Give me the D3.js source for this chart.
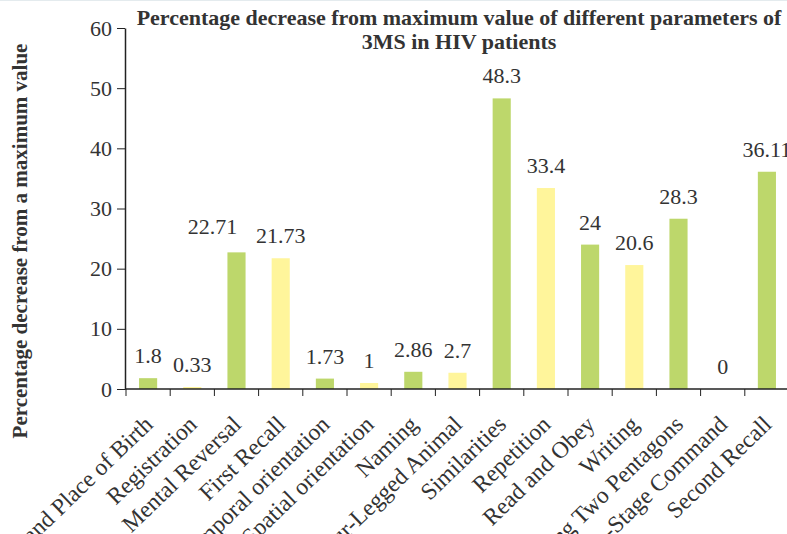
<!DOCTYPE html>
<html>
<head>
<meta charset="utf-8">
<script src="https://cdn.jsdelivr.net/npm/d3@7"></script>
<style>
  body { margin: 0; background: #fff; }
  svg { display: block; font-family: "Palatino Linotype", "Book Antiqua", Palatino, "Liberation Serif", serif; }
  .axis path, .axis line { stroke: #222; }
  .axis text { fill: #333; }
</style>
</head>
<body>
<div id="chart"></div>
<script>
"use strict";

var categories = ["Date and Place of Birth", "Registration", "Mental Reversal", "First Recall",
    "Temporal orientation", "Spatial orientation", "Naming", "Four-Legged Animal",
    "Similarities", "Repetition", "Read and Obey", "Writing", "Copying Two Pentagons",
    "Three-Stage Command", "Second Recall"];
var values = [1.8, 0.33, 22.71, 21.73, 1.73, 1, 2.86, 2.7, 48.3, 33.4, 24, 20.6, 28.3, 0, 36.11];
var valueLabels = ["1.8", "0.33", "22.71", "21.73", "1.73", "1", "2.86", "2.7", "48.3", "33.4", "24", "20.6", "28.3", "0", "36.11"];
var yTicks = [0, 10, 20, 30, 40, 50, 60];

var W = 787, H = 534;
var plotLeft = 126, plotRight = 789, plotTop = 28, plotBottom = 389;
var colors = ["#bdd76b", "#fff59b"];

var svg = d3.select("#chart")
    .append("svg")
    .attr("width", W)
    .attr("height", H);

// faint line along the top edge
svg.append("rect")
    .attr("x", 0).attr("y", 0)
    .attr("width", W).attr("height", 1)
    .attr("fill", "#e4ebee");

var x = d3.scaleBand()
    .domain(categories)
    .range([plotLeft, plotRight]);
var y = d3.scaleLinear()
    .domain([0, 60])
    .range([plotBottom, plotTop]);

var barW = x.bandwidth() * 0.41;

svg.selectAll(".bar")
    .data(values)
    .enter()
    .append("rect")
    .attr("class", "bar")
    .attr("x", (d, i) => x(categories[i]) + (x.bandwidth() - barW) / 2)
    .attr("y", d => y(d))
    .attr("width", barW)
    .attr("height", d => plotBottom - y(d))
    .attr("fill", (d, i) => colors[i % 2]);

// label for Mental Reversal is pushed left so it clears First Recall's one
function nudge(i) {
    return categories[i] === "Mental Reversal" ? [-24, -3] : [0, 0];
}

svg.selectAll(".val")
    .data(values)
    .enter()
    .append("text")
    .attr("class", "val")
    .attr("x", (d, i) => x(categories[i]) + x.bandwidth() / 2 + nudge(i)[0])
    .attr("y", d => y(d) - 15)
    .attr("dy", (d, i) => nudge(i)[1])
    .attr("text-anchor", "middle")
    .attr("font-size", 22)
    .attr("fill", "#333")
    .text((d, i) => valueLabels[i]);

// y axis
var yAxis = svg.append("g")
    .attr("class", "axis axis--y")
    .attr("transform", "translate(" + (plotLeft - 1) + ",0)")
    .call(d3.axisLeft(y).tickValues(yTicks).tickSize(8).tickPadding(5).tickSizeOuter(0))
    .attr("font-family", null);
yAxis.selectAll("text").attr("font-size", 22);
yAxis.select(".domain").attr("stroke", "#555").attr("stroke-width", 1.5);

// x axis: ticks on category boundaries
var xAxis = svg.append("g")
    .attr("class", "axis axis--x")
    .attr("transform", "translate(0," + plotBottom + ")");
xAxis.append("line")
    .attr("x1", plotLeft - 1).attr("x2", W)
    .attr("stroke", "#222").attr("stroke-width", 1.5);
xAxis.selectAll(".tk")
    .data(categories)
    .enter()
    .append("line")
    .attr("class", "tk")
    .attr("x1", d => x(d)).attr("x2", d => x(d))
    .attr("y1", 0).attr("y2", 7)
    .attr("stroke", "#222");

xAxis.selectAll(".lbl")
    .data(categories)
    .enter()
    .append("text")
    .attr("class", "lbl")
    .attr("transform", d => "translate(" + (x(d) + x.bandwidth() / 2 + 6) + ",37) rotate(-44)")
    .attr("text-anchor", "end")
    .attr("font-size", 23.5)
    .attr("fill", "#333")
    .text(d => d);

// titles
var title = svg.append("text")
    .attr("x", 459)
    .attr("text-anchor", "middle")
    .attr("font-weight", "bold")
    .attr("font-size", 22)
    .attr("fill", "#333");
title.append("tspan").attr("x", 459).attr("y", 25)
    .text("Percentage decrease from maximum value of different parameters of");
title.append("tspan").attr("x", 459).attr("y", 49)
    .text("3MS in HIV patients");

svg.append("text")
    .attr("transform", "translate(27,241) rotate(-90)")
    .attr("text-anchor", "middle")
    .attr("font-weight", "bold")
    .attr("font-size", 21)
    .attr("fill", "#333")
    .text("Percentage decrease from a maximum value");
</script>
</body>
</html>
